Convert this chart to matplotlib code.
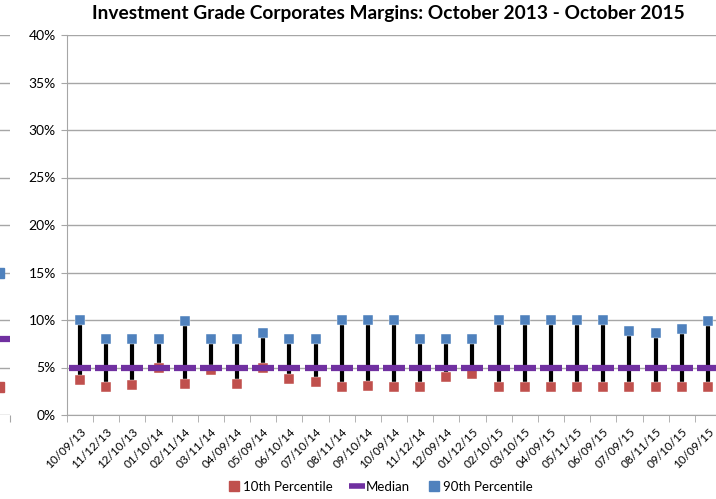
import matplotlib.pyplot as plt
from matplotlib.lines import Line2D
from matplotlib.ticker import FuncFormatter, MultipleLocator
import numpy as np

dates = ['10/09/13', '11/12/13', '12/10/13', '01/10/14', '02/11/14', '03/11/14',
         '04/09/14', '05/09/14', '06/10/14', '07/10/14', '08/11/14', '09/10/14',
         '10/09/14', '11/12/14', '12/09/14', '01/12/15', '02/10/15', '03/10/15',
         '04/09/15', '05/11/15', '06/09/15', '07/09/15', '08/11/15', '09/10/15',
         '10/09/15']
p90 = [10.0, 8.0, 8.0, 8.0, 9.9, 8.0, 8.0, 8.6, 8.0, 8.0, 10.0, 10.0,
       10.0, 8.0, 8.0, 8.0, 10.0, 10.0, 10.0, 10.0, 10.0, 8.85, 8.6, 9.1, 9.9]
median = [5.0] * 25
p10 = [3.7, 3.0, 3.15, 5.0, 3.25, 4.75, 3.25, 4.9, 3.75, 3.5, 3.0, 3.05,
       3.0, 3.0, 4.05, 4.35, 3.0, 3.0, 3.0, 3.0, 3.0, 3.0, 3.0, 3.0, 3.0]

# neighbouring chart that is cut off at the left edge
left_p90, left_median, left_p10 = [15.0], [8.0], [3.0]

RED = '#C0504D'
PURPLE = '#7030A0'
BLUE = '#4F81BD'
GRID = '#A6A6A6'

plt.rcParams['font.family'] = ['Lato', 'DejaVu Sans']

fig = plt.figure(figsize=(7.16, 4.99), dpi=100)
bottom, height = 1 - 415 / 499, (415 - 35) / 499

ax = fig.add_axes([67 / 716, bottom, (721 - 67) / 716, height])
x = np.arange(len(dates))
ax.vlines(x, np.minimum(p10, median), p90, color='black', lw=3, zorder=2)
ax.plot(x, p10, 's', color=RED, ms=7, mec='white', mew=0.3, zorder=3)
ax.plot(x, median, '_', color=PURPLE, ms=15.5, mew=4.5, zorder=4)
ax.plot(x, p90, 's', color=BLUE, ms=7, mec='white', mew=0.3, zorder=3)

ax.set_xlim(-0.5, len(dates) - 0.5)
ax.set_ylim(0, 40)
ax.yaxis.set_major_locator(MultipleLocator(5))
ax.yaxis.set_major_formatter(FuncFormatter(lambda v, p: f'{v:.0f}%'))
ax.grid(axis='y', color=GRID, lw=1)
ax.set_axisbelow(True)
for s in ['top', 'right']:
    ax.spines[s].set_visible(False)
for s in ['left', 'bottom']:
    ax.spines[s].set_color(GRID)
ax.set_xticks(x)
ax.set_xticklabels(dates, rotation=45, ha='right', rotation_mode='anchor', fontsize=8.5)
ax.set_xticks(np.arange(-0.5, len(dates), 1), minor=True)
ax.tick_params(axis='x', which='major', length=0, pad=8)
ax.tick_params(axis='x', which='minor', length=5, color=GRID)
ax.tick_params(axis='y', length=4, color=GRID, labelsize=10, pad=4)

ax.set_title('Investment Grade Corporates Margins: October 2013 - October 2015',
             fontsize=13.8, fontweight='bold', x=(388 - 67) / 654, y=1.02)

# cut-off strip of the previous chart
axl = fig.add_axes([0, bottom, 10 / 716, height])
axl.set_xlim(0, 1)
axl.set_ylim(0, 40)
axl.yaxis.set_major_locator(MultipleLocator(5))
axl.grid(axis='y', color=GRID, lw=1)
axl.plot([-0.15], left_p10, 's', color=RED, ms=7)
axl.plot([-0.15], left_median, '_', color=PURPLE, ms=15.5, mew=4.5)
axl.plot([-0.15], left_p90, 's', color=BLUE, ms=7)
for s in axl.spines.values():
    s.set_visible(False)
axl.set_xticks([0.95])
axl.tick_params(axis='x', length=5, color=GRID, labelbottom=False)
axl.tick_params(axis='y', length=0, labelleft=False)

handles = [
    Line2D([], [], ls='none', marker='s', color=RED, ms=7),
    Line2D([], [], ls='none', marker='_', color=PURPLE, ms=11, mew=4),
    Line2D([], [], ls='none', marker='s', color=BLUE, ms=7),
]
fig.legend(handles, ['10th Percentile', 'Median', '90th Percentile'],
           loc='center', bbox_to_anchor=(0.53, 1 - 487 / 499), ncol=3,
           frameon=False, fontsize=9.5, handletextpad=0.1, columnspacing=1.2,
           handlelength=1.2)

fig.savefig('out.png', dpi=100)
